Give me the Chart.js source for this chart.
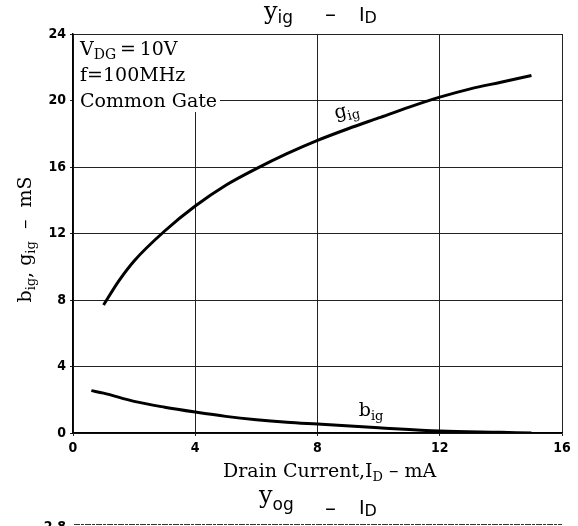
<!DOCTYPE html>
<html>
<head>
<meta charset="utf-8">
<script src="https://cdn.jsdelivr.net/npm/chart.js@4/dist/chart.umd.min.js"></script>
<style>
  body { margin: 0; background: #fff; }
  canvas { display: block; }
</style>
</head>
<body>
<canvas id="graficoYig" width="578" height="526"></canvas>
<script>
// Drain current (mA) and admittance (mS)
const gigCurrent = [1, 1.5, 2, 3, 4, 5, 6, 7, 8, 9, 10, 11, 12, 13, 14, 15];
const gigValues = [7.7, 9.15, 10.35, 12.15, 13.65, 14.9, 15.9, 16.8, 17.6, 18.3, 18.95, 19.6, 20.2, 20.7, 21.1, 21.5];
const bigCurrent = [0.6, 1, 2, 3, 4, 5, 6, 7, 8, 10, 12, 14, 15];
const bigValues = [2.55, 2.4, 1.9, 1.55, 1.26, 1.0, 0.8, 0.65, 0.54, 0.32, 0.12, 0.04, 0.0];
const xTicks = [0, 4, 8, 12, 16];
const yTicks = [0, 4, 8, 12, 16, 20, 24];

const serif = "'DejaVu Serif', 'Liberation Serif', serif";
const sans = "'DejaVu Sans', 'Liberation Sans', sans-serif";

// draws pieces of text one after another: [text, font, dy]
function rich(ctx, x, y, parts) {
  let cx = x;
  parts.forEach(([t, font, dy]) => {
    ctx.font = font;
    ctx.fillText(t, cx, y + (dy || 0));
    cx += ctx.measureText(t).width;
  });
  return cx - x;
}
function richWidth(ctx, parts) {
  let w = 0;
  parts.forEach(([t, font]) => { ctx.font = font; w += ctx.measureText(t).width; });
  return w;
}

const textos = {
  id: "textos",
  beforeDatasetsDraw(chart) {
    const ctx = chart.ctx;
    const a = chart.chartArea;
    ctx.save();
    ctx.fillStyle = "#fff";
    ctx.fillRect(a.left + 1, a.top + 1, 146, 77);
    ctx.fillStyle = "#000";
    ctx.textBaseline = "alphabetic";
    rich(ctx, 80, 55, [["V", "19px " + serif], ["DG", "14px " + serif, 4], ["\u2009=\u200910V", "19px " + serif]]);
    rich(ctx, 80, 81, [["f=100MHz", "19px " + serif]]);
    rich(ctx, 80, 107, [["Common Gate", "19px " + serif]]);
    ctx.restore();
  },
  afterDraw(chart) {
    const ctx = chart.ctx;
    const xs = chart.scales.x, ys = chart.scales.y;
    ctx.save();
    ctx.fillStyle = "#000";
    ctx.textBaseline = "alphabetic";

    // top title
    rich(ctx, 264, 19, [["y", "24px " + serif], ["ig", "17px " + sans, 4]]);
    rich(ctx, 325, 21, [["–", "22px " + sans]]);
    rich(ctx, 359, 21, [["I", "19px " + sans], ["D", "16px " + sans, 2]]);

    // x axis title
    rich(ctx, 223, 477, [["Drain Current,I", "19px " + serif], ["D", "13px " + serif, 4], [" – mA", "19px " + serif]]);

    // y axis title
    const yParts = [["b", "19px " + serif], ["ig", "13px " + serif, 4], [", g", "19px " + serif], ["ig", "13px " + serif, 4], ["  –  mS", "19px " + serif]];
    const w = richWidth(ctx, yParts);
    ctx.save();
    ctx.translate(31, (chart.chartArea.top + chart.chartArea.bottom) / 2 + 6);
    ctx.rotate(-Math.PI / 2);
    rich(ctx, -w / 2, 0, yParts);
    ctx.restore();

    // curve labels
    ctx.save();
    ctx.translate(xs.getPixelForValue(8.6), ys.getPixelForValue(18.9));
    ctx.rotate(-0.22);
    rich(ctx, 0, 0, [["g", "19px " + serif], ["ig", "13px " + serif, 4]]);
    ctx.restore();
    rich(ctx, xs.getPixelForValue(9.35), ys.getPixelForValue(1.03), [["b", "19px " + serif], ["ig", "13px " + serif, 4]]);

    // next chart, cut by the bottom edge
    rich(ctx, 259, 503, [["y", "24px " + serif], ["og", "17px " + sans, 7]]);
    rich(ctx, 325, 515, [["–", "22px " + sans]]);
    rich(ctx, 359, 514, [["I", "19px " + sans], ["D", "16px " + sans, 2]]);
    ctx.font = "bold 14px 'DejaVu Sans Condensed', " + sans;
    ctx.textAlign = "right";
    ctx.fillText("2.8", 66, 531);
    ctx.strokeStyle = "#333";
    ctx.lineWidth = 1;
    ctx.setLineDash([6, 1, 3, 1]);
    ctx.beginPath();
    ctx.moveTo(74, 524.5);
    ctx.lineTo(562, 524.5);
    ctx.stroke();
    ctx.restore();
  }
};

const tickFont = { family: "'DejaVu Sans Condensed', " + sans, size: 14, weight: "bold" };

new Chart(document.getElementById("graficoYig").getContext("2d"), {
  type: "line",
  data: {
    datasets: [
      {
        label: "gig",
        data: gigCurrent.map((x, i) => ({ x: x, y: gigValues[i] })),
        borderColor: "#000",
        borderWidth: 3,
        pointRadius: 0,
        fill: false,
        cubicInterpolationMode: "monotone"
      },
      {
        label: "big",
        data: bigCurrent.map((x, i) => ({ x: x, y: bigValues[i] })),
        borderColor: "#000",
        borderWidth: 3,
        pointRadius: 0,
        fill: false,
        cubicInterpolationMode: "monotone"
      }
    ]
  },
  options: {
    responsive: false,
    animation: false,
    layout: { padding: { top: 34, right: 16, left: 0, bottom: 0 } },
    plugins: {
      legend: { display: false },
      tooltip: { enabled: false }
    },
    scales: {
      x: {
        type: "linear",
        min: xTicks[0],
        max: xTicks[xTicks.length - 1],
        afterBuildTicks: s => { s.ticks = xTicks.map(v => ({ value: v })); },
        afterFit: s => { s.height = 93; },
        ticks: { color: "#000", font: tickFont, padding: 4, maxRotation: 0 },
        grid: { color: "#222", lineWidth: 1, tickLength: 3 },
        border: { color: "#000", width: 1.5 }
      },
      y: {
        type: "linear",
        min: yTicks[0],
        max: yTicks[yTicks.length - 1],
        afterBuildTicks: s => { s.ticks = yTicks.map(v => ({ value: v })); },
        afterFit: s => { s.width = 73; },
        ticks: { color: "#000", font: tickFont, padding: 4 },
        grid: { color: "#222", lineWidth: 1, tickLength: 3 },
        border: { color: "#000", width: 1.5 }
      }
    }
  },
  plugins: [textos]
});
</script>
</body>
</html>
